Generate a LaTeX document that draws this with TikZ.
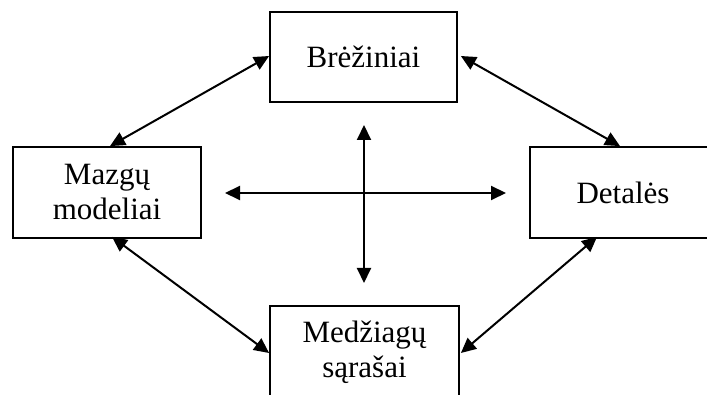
\documentclass[tikz,border=0pt]{standalone}
\usepackage{fontspec}
\setmainfont{Liberation Serif}
\usetikzlibrary{arrows.meta}
\begin{document}
\begin{tikzpicture}[x=1pt,y=-1pt,
  box/.style={draw, line width=1.8pt, rectangle, inner sep=0pt, align=center,
    font=\fontsize{31}{35}\selectfont},
  link/.style={line width=2pt, {Triangle[length=15pt,width=14pt]}-{Triangle[length=15pt,width=14pt]}}]
  \useasboundingbox (0,0) rectangle (707,395);
  \clip (0,0) rectangle (707,395);
  \fill[white] (0,0) rectangle (707,395);

  % four blocks
  \node[box, minimum width=187pt, minimum height=90pt] (T) at (363.5,57) {Brėžiniai};
  \node[box, minimum width=188pt, minimum height=91pt] (L) at (107,192.5) {Mazgų\\modeliai};
  \node[box, minimum width=186pt, minimum height=91pt] (R) at (623,192.5) {Detalės};
  \node[box, minimum width=189pt, minimum height=92pt] (B) at (364.5,352) {Medžiagų\\sąrašai};

  % links between neighbouring blocks
  \draw[link] ([xshift=3pt]L.north) -- ([yshift=1pt]T.west);
  \draw[link] ([xshift=3pt,yshift=1pt]T.east) -- ([xshift=-3pt]R.north);
  \draw[link] ([xshift=5pt,yshift=2pt]L.south) -- ([yshift=-1pt]B.west);
  \draw[link] ([xshift=1pt,yshift=-1pt]B.east) -- ([xshift=-26pt,yshift=2pt]R.south);

  % central cross
  \coordinate (cl) at (225,193);
  \coordinate (cr) at (506,193);
  \coordinate (ct) at (364,125);
  \coordinate (cb) at (364,283);
  \draw[link] (cl) -- (cr);
  \draw[link] (ct) -- (cb);
\end{tikzpicture}
\end{document}
